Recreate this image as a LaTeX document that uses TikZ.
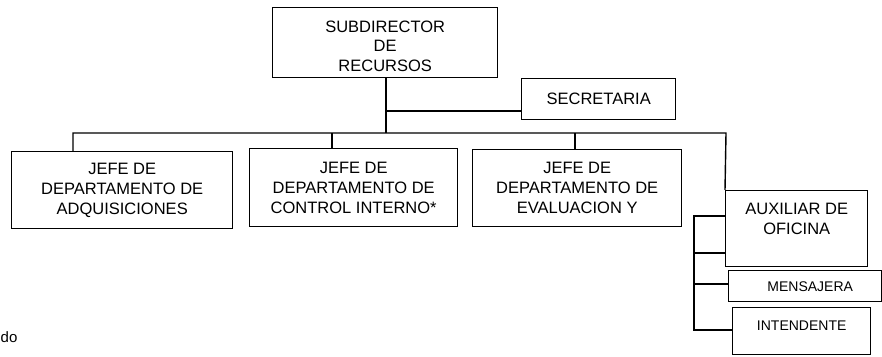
\documentclass[tikz,border=0pt]{standalone}
\usepackage{fontspec}
\setmainfont{Liberation Sans}

\begin{document}
\begin{tikzpicture}[x=1pt,y=-1pt,line width=1.4pt,
  main box/.style={draw,rectangle,inner sep=0pt,anchor=north west,align=center,font=\fontsize{16.5}{20}\selectfont},
  small box/.style={main box,font=\fontsize{14}{17}\selectfont},
  top text/.style={anchor=north,inner sep=0pt,align=center}]

\useasboundingbox (0,0) rectangle (882,356);

\node[main box,minimum width=225pt,minimum height=70pt,
  label={[top text,font=\fontsize{16.5}{19.5}\selectfont,yshift=-13pt]north:SUBDIRECTOR\\DE\\RECURSOS}] (sub) at (272,7) {};
\node[main box,minimum width=154pt,minimum height=41pt] (sec) at (521,78) {SECRETARIA};

\foreach \place/\w/\h/\name/\txt in {{(11,151)/221/77/adq/ADQUISICIONES}, {(249,148)/208/78/ctrl/CONTROL INTERNO*}, {(472,149)/209/77/eval/EVALUACION Y}}
	\node[main box,minimum width=\w pt,minimum height=\h pt] (\name) at \place {JEFE DE\\DEPARTAMENTO DE\\\txt};

\node[main box,minimum width=142pt,minimum height=76pt,
  label={[top text,font=\fontsize{16.5}{20}\selectfont,yshift=-12pt]north:AUXILIAR DE\\OFICINA}] (aux) at (725,190) {};
\node[small box,minimum width=153pt,minimum height=31pt] (mens) at (728,270) {\hspace*{10pt}MENSAJERA};
\node[small box,minimum width=138pt,minimum height=47pt,
  label={[top text,font=\fontsize{14}{17}\selectfont,yshift=-13pt]north:INTENDENTE}] (inte) at (732,307) {};

\node[anchor=base west,inner sep=0pt,font=\fontsize{15}{18}\selectfont] (nota) at (0,342) {do};

\coordinate (busL) at (73,133);
\coordinate (busR) at (726,133);
\coordinate (secTap) at (386,111);
\coordinate (auxTop) at (694,216);
\coordinate (auxBot) at (694,330);

\draw (sub.south -| secTap) -- (secTap |- busL);
\draw (secTap) -- (secTap -| sec.west);
\draw (busL |- adq.north) -- (busL) -- (busR) -- (aux.north west);
\foreach \x/\name in {332/ctrl, 575/eval}
	\draw (\x,133) -- (\x,133 |- \name.north);
\draw (auxTop -| aux.west) -- (auxTop) -- (auxBot) -- (auxBot -| inte.west);
\foreach \y/\name in {253/aux, 284/mens}
	\draw (694,\y) -- (694,\y -| \name.west);
\end{tikzpicture}
\end{document}
